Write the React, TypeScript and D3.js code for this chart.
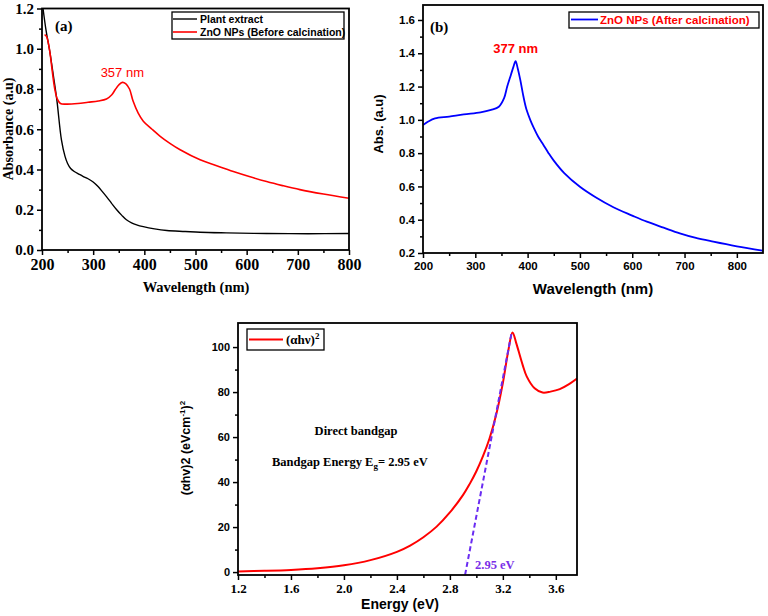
import { useEffect, useRef } from "react";
import * as d3 from "d3";

const SERIF = "'Liberation Serif', 'Times New Roman', serif";
const SANS = "'Liberation Sans', Arial, sans-serif";

// (a) plant extract vs ZnO NPs before calcination
const plantWl = [202, 208, 215, 222, 229, 238, 245, 250, 256, 263, 272, 280, 290, 300, 310, 318, 326, 336, 346, 356, 365, 375, 385, 398, 420, 444, 480, 509, 560, 639, 720, 800];
const plantAbs = [1.2, 1.09, 0.99, 0.87, 0.746, 0.547, 0.465, 0.43, 0.405, 0.39, 0.377, 0.366, 0.354, 0.338, 0.314, 0.29, 0.265, 0.232, 0.2, 0.172, 0.15, 0.135, 0.125, 0.116, 0.105, 0.097, 0.092, 0.088, 0.085, 0.082, 0.081, 0.082];
const beforeWl = [205, 209, 215, 220, 225, 230, 236, 248, 270, 290, 310, 326, 336, 343, 350, 357, 364, 371, 378, 388, 398, 415, 431, 450, 470, 509, 540, 574, 605, 639, 670, 704, 750, 800];
const beforeAbs = [1.07, 1.06, 0.99, 0.89, 0.8, 0.75, 0.728, 0.725, 0.728, 0.734, 0.74, 0.75, 0.77, 0.796, 0.82, 0.833, 0.826, 0.8, 0.74, 0.68, 0.64, 0.6, 0.565, 0.53, 0.498, 0.448, 0.42, 0.39, 0.365, 0.34, 0.32, 0.3, 0.278, 0.257];

// (b) ZnO NPs after calcination
const afterWl = [200, 210, 223, 250, 278, 310, 330, 345, 355, 361, 368, 373, 377, 381, 386, 392, 398, 405, 412, 420, 430, 440, 450, 470, 500, 530, 564, 600, 628, 660, 691, 720, 755, 800, 849];
const afterAbs = [0.969, 0.99, 1.009, 1.02, 1.033, 1.045, 1.06, 1.079, 1.13, 1.2, 1.27, 1.32, 1.353, 1.31, 1.24, 1.14, 1.06, 1.0, 0.95, 0.9, 0.85, 0.8, 0.755, 0.68, 0.598, 0.535, 0.475, 0.425, 0.388, 0.352, 0.318, 0.292, 0.268, 0.24, 0.214];

// (c) Tauc plot
const energy = [1.2, 1.4, 1.6, 1.8, 2.0, 2.2, 2.4, 2.5, 2.6, 2.7, 2.8, 2.9, 2.95, 3.0, 3.05, 3.1, 3.15, 3.2, 3.24, 3.273, 3.3, 3.32, 3.35, 3.38, 3.44, 3.5, 3.56, 3.63, 3.7, 3.76];
const tauc = [0.3, 0.55, 0.95, 1.7, 3.0, 5.3, 9.0, 11.8, 15.5, 20.2, 26.5, 34.3, 39.2, 44.8, 51.5, 59.5, 70, 84, 98, 106.5, 102, 98, 92, 87, 81.7, 79.8, 80.2, 81.3, 83.5, 86];
const tangentE = [2.915, 3.265];
const tangentY = [-1.2, 106];

const wlTicks = [200, 300, 400, 500, 600, 700, 800];
const absTicksA = [0, 0.2, 0.4, 0.6, 0.8, 1.0, 1.2];
const absTicksB = [0.2, 0.4, 0.6, 0.8, 1.0, 1.2, 1.4, 1.6];
const eTicks = [1.2, 1.6, 2.0, 2.4, 2.8, 3.2, 3.6];
const taucTicks = [0, 20, 40, 60, 80, 100];

type G = d3.Selection<SVGGElement, unknown, null, undefined>;
type Lin = d3.ScaleLinear<number, number>;

function drawAxes(
  g: G,
  x: Lin,
  y: Lin,
  o: {
    xTicks: number[];
    yTicks: number[];
    xMinor: number[];
    yMinor: number[];
    xFmt: (d: number) => string;
    yFmt: (d: number) => string;
    xFont: string;
    yFont: string;
    xSize: number;
    ySize: number;
  }
) {
  const [x0, x1] = x.range();
  const [y0, y1] = y.range();

  const style = (s: G, font: string, size: number) => {
    s.select(".domain").remove();
    s.selectAll("line").attr("stroke", "#000").attr("stroke-width", 1.5);
    s.selectAll("text")
      .attr("fill", "#000")
      .style("font-family", font)
      .style("font-size", `${size}px`)
      .style("font-weight", "bold");
  };

  g.append("g")
    .attr("transform", `translate(0,${y0})`)
    .call(d3.axisBottom(x).tickValues(o.xMinor).tickFormat(() => "").tickSize(3).tickSizeOuter(0))
    .call((s) => style(s as G, o.xFont, o.xSize));
  g.append("g")
    .attr("transform", `translate(0,${y0})`)
    .call(d3.axisBottom(x).tickValues(o.xTicks).tickFormat((d) => o.xFmt(+d)).tickSize(5).tickPadding(4).tickSizeOuter(0))
    .call((s) => style(s as G, o.xFont, o.xSize));
  g.append("g")
    .attr("transform", `translate(${x0},0)`)
    .call(d3.axisLeft(y).tickValues(o.yMinor).tickFormat(() => "").tickSize(3).tickSizeOuter(0))
    .call((s) => style(s as G, o.yFont, o.ySize));
  g.append("g")
    .attr("transform", `translate(${x0},0)`)
    .call(d3.axisLeft(y).tickValues(o.yTicks).tickFormat((d) => o.yFmt(+d)).tickSize(5).tickPadding(3).tickSizeOuter(0))
    .call((s) => style(s as G, o.yFont, o.ySize));

  g.append("rect")
    .attr("x", x0)
    .attr("y", y1)
    .attr("width", x1 - x0)
    .attr("height", y0 - y1)
    .attr("fill", "none")
    .attr("stroke", "#000")
    .attr("stroke-width", 1.8);
}

function curve(g: G, id: string, x: Lin, y: Lin, xs: number[], ys: number[], color: string, w = 1.6) {
  const [x0, x1] = x.range();
  const [y0, y1] = y.range();
  g.append("clipPath")
    .attr("id", id)
    .append("rect")
    .attr("x", x0)
    .attr("y", y1)
    .attr("width", x1 - x0)
    .attr("height", y0 - y1);
  const line = d3
    .line<number>()
    .x((_, i) => x(xs[i]))
    .y((d) => y(d))
    .curve(d3.curveCatmullRom.alpha(0.5));
  g.append("path")
    .attr("clip-path", `url(#${id})`)
    .attr("d", line(ys))
    .attr("fill", "none")
    .attr("stroke", color)
    .attr("stroke-width", w)
    .attr("stroke-linejoin", "round");
}

const App = () => {
  const svgRef = useRef<SVGSVGElement | null>(null);

  useEffect(() => {
    if (!svgRef.current) return;
    const svg = d3.select(svgRef.current);
    svg.selectAll("*").remove();
    const root = svg.append("g") as G;

    // ---------- (a) ----------
    const xa = d3.scaleLinear().domain([200, 800]).range([42, 349]);
    const ya = d3.scaleLinear().domain([0, 1.2]).range([250, 8.5]);
    const ga = root.append("g") as G;
    curve(ga, "clipA1", xa, ya, plantWl, plantAbs, "#000", 1.4);
    curve(ga, "clipA2", xa, ya, beforeWl, beforeAbs, "#ff0000", 1.6);
    drawAxes(ga, xa, ya, {
      xTicks: wlTicks,
      yTicks: absTicksA,
      xMinor: d3.range(250, 800, 100),
      yMinor: d3.range(0.1, 1.2, 0.2),
      xFmt: (d) => `${d}`,
      yFmt: d3.format(".1f"),
      xFont: SERIF,
      yFont: SERIF,
      xSize: 16,
      ySize: 15,
    });
    ga.append("text").attr("x", 55).attr("y", 31).text("(a)")
      .style("font-family", SERIF).style("font-size", "15px").style("font-weight", "bold");
    ga.append("text").attr("x", xa(357)).attr("y", 77).attr("text-anchor", "middle").text("357 nm")
      .attr("fill", "#ff0000").style("font-family", SANS).style("font-size", "13px");
    ga.append("rect").attr("x", 172).attr("y", 12).attr("width", 172).attr("height", 27)
      .attr("fill", "#fff").attr("stroke", "#000").attr("stroke-width", 1.3);
    ga.append("line").attr("x1", 173).attr("x2", 197).attr("y1", 19).attr("y2", 19).attr("stroke", "#000").attr("stroke-width", 1.4);
    ga.append("line").attr("x1", 173).attr("x2", 197).attr("y1", 32).attr("y2", 32).attr("stroke", "#ff0000").attr("stroke-width", 1.6);
    ga.append("text").attr("x", 200).attr("y", 23).text("Plant extract")
      .style("font-family", SANS).style("font-size", "10.5px").style("font-weight", "bold");
    ga.append("text").attr("x", 200).attr("y", 36).text("ZnO NPs (Before calcination)")
      .style("font-family", SANS).style("font-size", "10.5px").style("font-weight", "bold");
    ga.append("text")
      .attr("transform", `translate(13,${(250 + 8) / 2}) rotate(-90)`)
      .attr("text-anchor", "middle")
      .text("Absorbance (a.u)")
      .style("font-family", SERIF).style("font-size", "14px").style("font-weight", "bold");
    ga.append("text").attr("x", 196).attr("y", 292).attr("text-anchor", "middle").text("Wavelength (nm)")
      .style("font-family", SERIF).style("font-size", "14.5px").style("font-weight", "bold");

    // ---------- (b) ----------
    const xb = d3.scaleLinear().domain([200, 850]).range([423, 763]);
    const yb = d3.scaleLinear().domain([0.2, 1.69]).range([253, 5]);
    const gb = root.append("g") as G;
    curve(gb, "clipB", xb, yb, afterWl, afterAbs, "#0000ff", 1.8);
    drawAxes(gb, xb, yb, {
      xTicks: wlTicks,
      yTicks: absTicksB,
      xMinor: d3.range(250, 850, 100),
      yMinor: d3.range(0.3, 1.69, 0.2),
      xFmt: (d) => `${d}`,
      yFmt: d3.format(".1f"),
      xFont: SANS,
      yFont: SANS,
      xSize: 11.5,
      ySize: 11.5,
    });
    gb.append("text").attr("x", 430).attr("y", 32).text("(b)")
      .style("font-family", SERIF).style("font-size", "15px").style("font-weight", "bold");
    gb.append("text").attr("x", xb(377)).attr("y", 53).attr("text-anchor", "middle").text("377 nm")
      .attr("fill", "#ff0000").style("font-family", SANS).style("font-size", "13px").style("font-weight", "bold");
    gb.append("rect").attr("x", 569).attr("y", 12).attr("width", 190).attr("height", 16)
      .attr("fill", "#fff").attr("stroke", "#000").attr("stroke-width", 1.3);
    gb.append("line").attr("x1", 571).attr("x2", 598).attr("y1", 19.5).attr("y2", 19.5).attr("stroke", "#0000ff").attr("stroke-width", 1.8);
    gb.append("text").attr("x", 600).attr("y", 24).text("ZnO NPs (After calcination)")
      .attr("fill", "#ff0000").style("font-family", SANS).style("font-size", "11.5px").style("font-weight", "bold");
    gb.append("text")
      .attr("transform", `translate(383,124) rotate(-90)`)
      .attr("text-anchor", "middle")
      .text("Abs. (a.u)")
      .style("font-family", SANS).style("font-size", "13px").style("font-weight", "bold");
    gb.append("text").attr("x", 593).attr("y", 294).attr("text-anchor", "middle").text("Wavelength (nm)")
      .style("font-family", SANS).style("font-size", "15px").style("font-weight", "bold");

    // ---------- (c) ----------
    const xc = d3.scaleLinear().domain([1.2, 3.76]).range([238, 577]);
    const yc = d3.scaleLinear().domain([-1.3, 110.7]).range([575, 323]);
    const gc = root.append("g") as G;
    curve(gc, "clipC", xc, yc, energy, tauc, "#ff0000", 2);
    gc.append("line")
      .attr("x1", xc(tangentE[0])).attr("y1", yc(tangentY[0]))
      .attr("x2", xc(tangentE[1])).attr("y2", yc(tangentY[1]))
      .attr("stroke", "#6a2cf2").attr("stroke-width", 2).attr("stroke-dasharray", "5,3");
    drawAxes(gc, xc, yc, {
      xTicks: eTicks,
      yTicks: taucTicks,
      xMinor: d3.range(1.4, 3.7, 0.4),
      yMinor: d3.range(10, 110, 20),
      xFmt: d3.format(".1f"),
      yFmt: (d) => `${d}`,
      xFont: SERIF,
      yFont: SANS,
      xSize: 13,
      ySize: 11,
    });
    gc.append("rect").attr("x", 247).attr("y", 329).attr("width", 77).attr("height", 21)
      .attr("fill", "#fff").attr("stroke", "#000").attr("stroke-width", 1.3);
    gc.append("line").attr("x1", 249).attr("x2", 283).attr("y1", 339.5).attr("y2", 339.5).attr("stroke", "#ff0000").attr("stroke-width", 2);
    const lt = gc.append("text").attr("x", 286).attr("y", 344)
      .style("font-family", SERIF).style("font-size", "13px").style("font-weight", "bold");
    lt.append("tspan").text("(αhν)");
    lt.append("tspan").attr("dy", -5).style("font-size", "9px").text("2");

    gc.append("text").attr("x", 356).attr("y", 435).attr("text-anchor", "middle").text("Direct bandgap")
      .style("font-family", SERIF).style("font-size", "12.5px").style("font-weight", "bold");
    const eg = gc.append("text").attr("x", 272).attr("y", 466)
      .style("font-family", SERIF).style("font-size", "12.5px").style("font-weight", "bold");
    eg.append("tspan").text("Bandgap Energy E");
    eg.append("tspan").attr("dy", 3).style("font-size", "9px").text("g");
    eg.append("tspan").attr("dy", -3).text("= 2.95 eV");
    gc.append("text").attr("x", 475).attr("y", 569).text("2.95 eV")
      .attr("fill", "#7a2ee8").style("font-family", SERIF).style("font-size", "12.5px").style("font-weight", "bold");

    const yl = gc.append("text")
      .attr("transform", `translate(190,448) rotate(-90)`)
      .attr("text-anchor", "middle")
      .style("font-family", SANS).style("font-size", "12.5px").style("font-weight", "bold");
    yl.append("tspan").text("(αhv)2 (eVcm");
    yl.append("tspan").attr("dy", -5).style("font-size", "8px").text("-1");
    yl.append("tspan").attr("dy", 5).text(")");
    yl.append("tspan").attr("dy", -5).style("font-size", "8px").text("2");
    gc.append("text").attr("x", 400).attr("y", 609).attr("text-anchor", "middle").text("Energy (eV)")
      .style("font-family", SANS).style("font-size", "14px").style("font-weight", "bold");
  }, []);

  return (
    <svg
      ref={svgRef}
      width={768}
      height={616}
      style={{ position: "absolute", left: 0, top: 0, background: "#fff" }}
    />
  );
};

export default App;
